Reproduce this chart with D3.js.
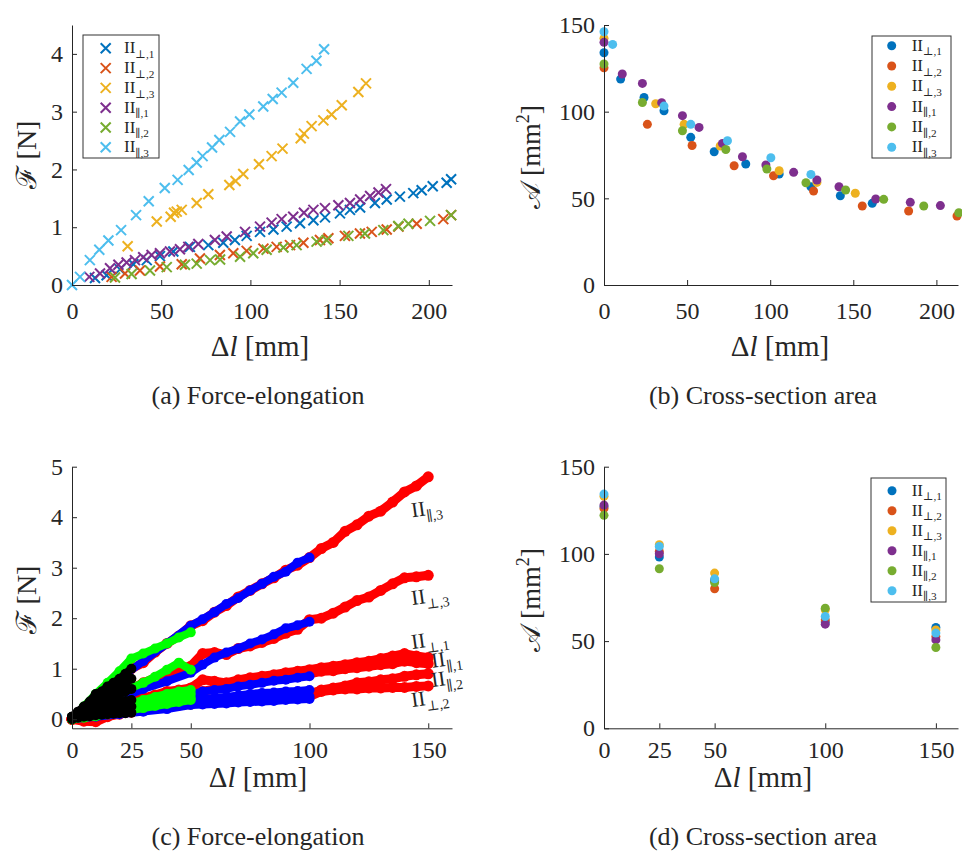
<!DOCTYPE html>
<html><head><meta charset="utf-8">
<script src="https://cdn.jsdelivr.net/npm/d3@7"></script>
<style>
body{margin:0;background:#fff;}
svg text{font-family:"Liberation Serif","DejaVu Serif",serif;fill:#262626;}
</style></head><body>
<svg id="chart" width="962" height="857"></svg>
<script>
// ---------- shared ----------
const seriesSubs = ["⊥,1","⊥,2","⊥,3","∥,1","∥,2","∥,3"];
const seriesColors = ["#0072BD","#D95319","#EDB120","#7E2F8E","#77AC30","#4DBEEE"];

// ---------- (a) force-elongation: [Δl mm, F N] ----------
const fePerp1 = [[12.9,0.12],[19.4,0.17],[26.9,0.27],[34.4,0.36],[41.9,0.43],[49.3,0.50],[56.8,0.58],[66.1,0.66],[76.4,0.69],[84.8,0.73],[91.3,0.78],[97.9,0.85],[105.4,0.92],[112.9,0.96],[120.3,1.01],[127.8,1.07],[135.3,1.12],[141.8,1.17],[150.2,1.24],[155.8,1.30],[161.5,1.34],[169.8,1.42],[176.4,1.48],[183.8,1.53],[191.3,1.59],[196,1.64],[202.2,1.71],[210,1.77],[212.5,1.83]];
const fePerp2 = [[22.2,0.14],[29.7,0.20],[38.1,0.25],[49.3,0.32],[61.5,0.36],[71.7,0.46],[82.9,0.52],[90.4,0.55],[97.9,0.59],[107.3,0.63],[114.7,0.66],[122.2,0.69],[129.7,0.73],[139,0.78],[143.7,0.81],[153,0.85],[161.4,0.89],[168,0.92],[176.4,0.96],[183,1.01],[193.2,1.06],[208.1,1.14],[212.5,1.21]];
const fePerp3 = [[31.2,0.67],[47.5,1.10],[55.3,1.18],[57.2,1.25],[58.7,1.27],[61.5,1.30],[69.9,1.42],[76.4,1.57],[88.2,1.73],[91.7,1.80],[96,1.92],[104.8,2.09],[111.9,2.23],[118,2.36],[128.2,2.54],[130,2.62],[134.3,2.75],[140.9,2.85],[145.5,2.95],[151.2,3.11],[160.5,3.34],[164.8,3.49]];
const fePar1 = [[9.7,0.14],[15.7,0.20],[21.3,0.29],[26,0.35],[30.6,0.39],[35.3,0.43],[39.9,0.48],[44.6,0.52],[49.3,0.55],[54.9,0.58],[60.5,0.62],[65.2,0.66],[70.8,0.71],[80.1,0.78],[86.7,0.84],[97,0.92],[105.4,1.01],[111.9,1.08],[117.5,1.14],[124,1.18],[130,1.25],[135.3,1.30],[141.8,1.33],[149.3,1.38],[155.8,1.42],[161.5,1.48],[167.1,1.54],[171.8,1.60],[176,1.66]];
const fePar2 = [[24.1,0.13],[33.4,0.19],[43.7,0.25],[53.1,0.31],[63.3,0.35],[69.9,0.37],[77.4,0.43],[83,0.44],[94.2,0.49],[101.6,0.55],[109.1,0.61],[118.5,0.65],[125.9,0.69],[137.1,0.75],[142.7,0.78],[154.9,0.85],[164.2,0.89],[174.5,0.95],[182.9,1.02],[188.6,1.06],[200.7,1.11],[212.5,1.21]];
const fePar3 = [[0,0],[4.5,0.14],[10,0.43],[15.3,0.61],[20.4,0.77],[27.5,0.95],[35.9,1.21],[43,1.45],[52,1.68],[59.2,1.82],[65.4,1.99],[69.9,2.12],[73.2,2.23],[78.5,2.38],[82.6,2.51],[88.6,2.65],[94.2,2.83],[99.4,2.95],[107.2,3.09],[112.5,3.22],[117.5,3.33],[124,3.5],[131.5,3.74],[137,3.88],[141.3,4.08]];

// ---------- (b) cross-section area: [Δl mm, A mm²] ----------
const csPerp1 = [[0,134],[10,118.8],[24.1,108.2],[36.1,100.5],[52.2,85.2],[66.3,76.9],[85.3,69.8],[105.4,64],[124.5,56.7],[142.2,51.5],[161.4,47.1]];
const csPerp2 = [[0,125.3],[26.1,92.7],[53,80.5],[78.3,68.8],[102,63],[126.1,54.2],[155.4,45.6],[183.3,42.7],[212.4,39.8]];
const csPerp3 = [[0,142.3],[31.1,104.6],[48.2,92.7],[69.9,80.2],[105.4,65.9],[128.1,59.2],[151.2,52.9]];
const csPar1 = [[0,140],[11,121.7],[23.1,116.3],[34.7,105.2],[47.2,97.7],[57.2,90.9],[71.3,81.7],[83.3,74],[97.4,69.2],[114.1,65],[128.1,60.6],[141.4,56.7],[163.5,49.6],[184.3,47.7],[202.4,45.8]];
const csPar2 = [[0,127.5],[23.1,105.3],[47.2,89],[73.3,78.2],[98,66.9],[121.5,59],[145.4,54.8],[168.3,49.4],[192.4,45.6],[213.5,41.7]];
const csPar3 = [[0,146.1],[5.2,138.8],[36.1,103.2],[52.2,92.7],[74.3,83.2],[100.4,73.4],[124.5,63.8]];

// ---------- (c) force-elongation, tests stopped at 150/100/50/25 mm ----------
const dl150 = [0,5,10,15,20,25,30,35,40,45,50,55,60,65,70,75,80,85,90,95,100,105,110,115,120,125,130,135,140,145,150];
const F150 = [
  [0,0.2,0.42,0.6,0.8,1.0,1.12,1.33,1.5,1.65,1.85,1.95,2.12,2.25,2.42,2.55,2.68,2.8,2.95,3.05,3.2,3.38,3.5,3.72,3.85,4.02,4.12,4.3,4.5,4.62,4.8],
  [0,0.12,0.25,0.38,0.5,0.6,0.72,0.82,0.92,1.0,1.05,1.3,1.32,1.28,1.4,1.45,1.52,1.6,1.7,1.78,1.97,2.0,2.1,2.22,2.35,2.42,2.55,2.68,2.8,2.82,2.85],
  [0,0.08,0.15,0.22,0.3,0.36,0.42,0.48,0.55,0.58,0.62,0.78,0.75,0.72,0.78,0.82,0.85,0.88,0.92,0.95,0.98,1.02,1.05,1.08,1.12,1.15,1.2,1.25,1.3,1.25,1.22],
  [0,0.06,0.12,0.18,0.25,0.3,0.35,0.4,0.45,0.48,0.52,0.55,0.6,0.64,0.68,0.72,0.75,0.78,0.82,0.86,0.9,0.95,0.96,1.0,1.02,1.05,1.08,1.1,1.15,1.12,1.1],
  [0,0.02,0.05,0.1,0.15,0.18,0.22,0.26,0.3,0.32,0.35,0.36,0.38,0.4,0.42,0.44,0.45,0.46,0.48,0.49,0.5,0.58,0.62,0.66,0.72,0.74,0.78,0.8,0.85,0.88,0.9],
  [0,-0.04,-0.05,0.05,0.1,0.14,0.18,0.22,0.25,0.28,0.3,0.32,0.34,0.36,0.38,0.39,0.4,0.42,0.43,0.44,0.45,0.55,0.58,0.6,0.6,0.62,0.62,0.63,0.63,0.65,0.66]
];
const dl100 = [0,10,20,30,40,50,55,60,65,70,75,80,85,90,95,100];
const F100 = [
  [0,0.4,0.8,1.15,1.5,1.85,1.98,2.12,2.28,2.4,2.55,2.68,2.82,2.92,3.1,3.2],
  [0,0.2,0.4,0.6,0.75,0.92,1.08,1.22,1.32,1.4,1.5,1.58,1.68,1.8,1.86,1.93],
  [0,0.12,0.22,0.32,0.4,0.48,0.55,0.58,0.6,0.65,0.68,0.72,0.76,0.78,0.82,0.85],
  [0,0.1,0.18,0.25,0.3,0.36,0.4,0.42,0.44,0.47,0.5,0.52,0.53,0.55,0.56,0.58],
  [0,0.08,0.14,0.2,0.25,0.3,0.31,0.33,0.35,0.37,0.38,0.4,0.41,0.42,0.44,0.45],
  [0,0.05,0.1,0.15,0.2,0.28,0.29,0.3,0.31,0.33,0.34,0.35,0.36,0.38,0.39,0.4]
];
const dl50 = [0,5,10,15,20,25,30,35,40,45,50];
const F50 = [
  [0,0.25,0.5,0.72,0.95,1.2,1.3,1.4,1.5,1.62,1.72],
  [0,0.15,0.28,0.38,0.5,0.62,0.72,0.84,0.98,1.12,0.98],
  [0,0.08,0.15,0.2,0.25,0.32,0.38,0.44,0.5,0.55,0.58],
  [0,0.06,0.12,0.18,0.22,0.28,0.33,0.38,0.42,0.46,0.5],
  [0,0.05,0.1,0.14,0.18,0.23,0.27,0.31,0.35,0.38,0.42],
  [0,0.03,0.06,0.1,0.14,0.18,0.22,0.26,0.3,0.34,0.38]
];
const dl25 = [0,2.5,5,7.5,10,12.5,15,17.5,20,22.5,25];
const F25 = [
  [0.05,0.15,0.25,0.35,0.5,0.55,0.65,0.72,0.8,0.9,1.0],
  [0.05,0.12,0.2,0.28,0.38,0.45,0.52,0.6,0.68,0.72,0.8],
  [0.05,0.1,0.15,0.22,0.28,0.33,0.4,0.45,0.5,0.55,0.6],
  [0.03,0.08,0.12,0.16,0.2,0.24,0.28,0.3,0.33,0.36,0.38],
  [0.02,0.05,0.08,0.11,0.14,0.16,0.19,0.21,0.23,0.24,0.25],
  [0.0,0.03,0.05,0.06,0.08,0.09,0.1,0.11,0.12,0.12,0.13]
];
const curveLabels = [
  {sub:"∥,3", x:143.3, y:4.0},
  {sub:"⊥,3", x:143.3, y:2.26},
  {sub:"⊥,1", x:143.3, y:1.39},
  {sub:"∥,1", x:151.7, y:1.02},
  {sub:"∥,2", x:151.7, y:0.64},
  {sub:"⊥,2", x:143.3, y:0.24}
];

// ---------- (d) cross-section area at fixed elongations ----------
const dlFixed = [0,25,50,100,150];
const aPerp1 = [127,98.2,85,61,57.8];
const aPerp2 = [126.1,101.4,80,62.2,52.6];
const aPerp3 = [133,105.3,89,68,56.4];
const aPar1 = [128,100.1,84.5,59.7,50.7];
const aPar2 = [122.1,91.5,83.6,68.9,46.3];
const aPar3 = [134.3,104.3,85.7,64.1,54.6];

// ---------- ticks ----------
const ticksA_x = [0,50,100,150,200], ticksA_y = [0,1,2,3,4];
const ticksB_y = [0,50,100,150];
const ticksC_x = [0,25,50,100,150], ticksC_y = [0,1,2,3,4,5];

const svg = d3.select("#chart");
const AX = "#262626";
const FONT = "'Liberation Serif','DejaVu Serif',serif";

function axes(x, y, xt, yt, xpad) {
  const gx = svg.append("g").attr("transform", `translate(0,${y.range()[0]})`)
    .call(d3.axisBottom(x).tickValues(xt).tickFormat(d3.format("d")).tickSizeInner(-5).tickSizeOuter(0).tickPadding(xpad));
  const gy = svg.append("g").attr("transform", `translate(${x.range()[0]},0)`)
    .call(d3.axisLeft(y).tickValues(yt).tickFormat(d3.format("d")).tickSizeInner(-5).tickSizeOuter(0).tickPadding(9));
  [gx, gy].forEach(g => {
    g.attr("font-family", FONT).attr("font-size", 24).attr("color", AX);
    g.selectAll("text").style("font-family", FONT).style("font-size", "24px").style("fill", AX);
    g.select(".domain").attr("stroke-width", 1);
  });
}
function iiText(sel, sub, size) {
  sel.append("tspan").text("II");
  sel.append("tspan").attr("font-size", size * 0.66).attr("dy", size * 0.28).text(sub);
}
function xLabel(cx, by) {
  const t = svg.append("text").attr("x", cx).attr("y", by).attr("text-anchor", "middle").attr("font-size", 29);
  t.append("tspan").text("Δ");
  t.append("tspan").attr("font-style", "italic").text("l");
  t.append("tspan").text(" [mm]");
}
function yLabel(tx, cy, kind) {
  const t = svg.append("text").attr("transform", `translate(${tx},${cy}) rotate(-90)`).attr("text-anchor", "middle").attr("font-size", 28);
  if (kind === "F") {
    t.append("tspan").text("ℱ [N]");
  } else {
    t.append("tspan").text("𝒜 [mm");
    t.append("tspan").attr("font-size", 18).attr("dy", -11).text("2");
    t.append("tspan").attr("dy", 11).text("]");
  }
}
function caption(cx, by, txt) {
  svg.append("text").attr("x", cx).attr("y", by).attr("text-anchor", "middle").attr("font-size", 26).text(txt);
}
function legend(x0, y0, w, h, rowY0, rowDy, markX, textX, kind) {
  svg.append("rect").attr("x", x0).attr("y", y0).attr("width", w).attr("height", h)
    .attr("fill", "#fff").attr("stroke", "#333").attr("stroke-width", 1);
  seriesSubs.forEach((s, i) => {
    const yy = rowY0 + i * rowDy;
    if (kind === "x") {
      svg.append("path").attr("d", `M${markX-5},${yy-5}L${markX+5},${yy+5}M${markX-5},${yy+5}L${markX+5},${yy-5}`)
        .attr("stroke", seriesColors[i]).attr("stroke-width", 2).attr("fill", "none");
    } else {
      svg.append("circle").attr("cx", markX).attr("cy", yy).attr("r", 4.5).attr("fill", seriesColors[i]);
    }
    const t = svg.append("text").attr("x", textX).attr("y", yy + 5).attr("font-size", 17);
    iiText(t, s, 17);
  });
}

// ---------- panel (a) ----------
{
  const x = d3.scaleLinear().domain([0, 213]).range([72, 452]);
  const y = d3.scaleLinear().domain([0, 4.5]).range([285, 25]);
  const data = [fePerp1, fePerp2, fePerp3, fePar1, fePar2, fePar3];
  data.forEach((ser, i) => {
    svg.append("g").selectAll("path").data(ser).join("path")
      .attr("d", d => { const px = x(d[0]), py = y(d[1]); return `M${px-5},${py-5}L${px+5},${py+5}M${px-5},${py+5}L${px+5},${py-5}`; })
      .attr("stroke", seriesColors[i]).attr("stroke-width", 2).attr("fill", "none");
  });
  axes(x, y, ticksA_x, ticksA_y, 17);
  legend(83, 35, 76, 123, 48.3, 19.8, 105.7, 124, "x");
  xLabel(260, 356);
  yLabel(36, 155, "F");
  caption(258, 404, "(a) Force-elongation");
}

// ---------- panel (b) ----------
{
  const x = d3.scaleLinear().domain([0, 213]).range([604, 958]);
  const y = d3.scaleLinear().domain([0, 150]).range([285, 25]);
  const data = [csPerp1, csPerp2, csPerp3, csPar1, csPar2, csPar3];
  data.forEach((ser, i) => {
    svg.append("g").selectAll("circle").data(ser).join("circle")
      .attr("cx", d => x(d[0])).attr("cy", d => y(d[1])).attr("r", 4.5).attr("fill", seriesColors[i]);
  });
  axes(x, y, ticksA_x, ticksB_y, 17);
  legend(872, 36, 79, 122, 45.7, 20.3, 891.7, 911.7, "o");
  xLabel(780, 356);
  yLabel(540, 157, "A");
  caption(763, 404, "(b) Cross-section area");
}

// ---------- panel (c) ----------
{
  const x = d3.scaleLinear().domain([0, 160]).range([72, 452]);
  const y = d3.scaleLinear().domain([-0.18, 5]).range([728.3, 466.7]);
  const groups = [[dl150, F150, "#ff0000", 9], [dl100, F100, "#0000ff", 8], [dl50, F50, "#00ff00", 8], [dl25, F25, "#000000", 8]];
  groups.forEach(([xs, Fs, col, w]) => {
    Fs.forEach(fs => {
      const pts = xs.map((v, k) => [v, fs[k]]);
      svg.append("path").attr("d", d3.line().x(d => x(d[0])).y(d => y(d[1]))(pts))
        .attr("fill", "none").attr("stroke", col).attr("stroke-width", w)
        .attr("stroke-linejoin", "round").attr("stroke-linecap", "round");
      svg.append("g").selectAll("circle").data(pts).join("circle")
        .attr("cx", d => x(d[0])).attr("cy", d => y(d[1])).attr("r", w / 2 + 1).attr("fill", col);
    });
  });
  axes(x, y, ticksC_x, ticksC_y, 13);
  curveLabels.forEach(l => {
    const t = svg.append("text").attr("transform", `translate(${x(l.x)},${y(l.y)}) rotate(-8)`).attr("font-size", 21);
    iiText(t, l.sub, 21);
  });
  xLabel(258, 787);
  yLabel(36, 600, "F");
  caption(258, 845, "(c) Force-elongation");
}

// ---------- panel (d) ----------
{
  const x = d3.scaleLinear().domain([0, 160]).range([604, 958]);
  const y = d3.scaleLinear().domain([0, 150]).range([728.3, 466.7]);
  const data = [aPerp1, aPerp2, aPerp3, aPar1, aPar2, aPar3];
  data.forEach((ser, i) => {
    svg.append("g").selectAll("circle").data(ser).join("circle")
      .attr("cx", (d, k) => x(dlFixed[k])).attr("cy", d => y(d)).attr("r", 4.5).attr("fill", seriesColors[i]);
  });
  axes(x, y, ticksC_x, ticksB_y, 13);
  legend(871, 478, 75, 124, 490.7, 20, 892, 911.7, "o");
  xLabel(763, 787);
  yLabel(540, 600, "A");
  caption(763, 845, "(d) Cross-section area");
}
</script>
</body></html>
